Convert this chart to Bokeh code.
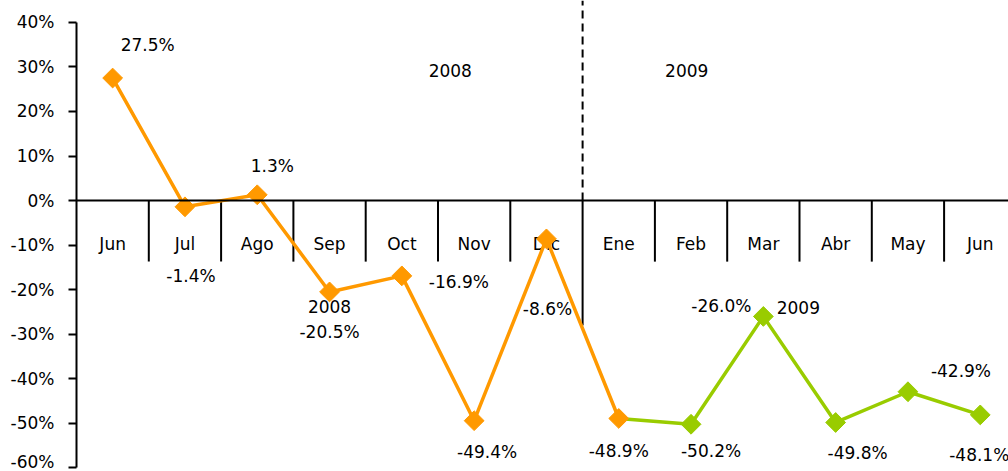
import math
from bokeh.plotting import figure
from bokeh.models import Range1d, FixedTicker, PrintfTickFormatter, Span, ColumnDataSource
from bokeh.core.properties import value
from bokeh.embed import file_html
from bokeh.resources import INLINE

# ---- data ----
months = ["Jun", "Jul", "Ago", "Sep", "Oct", "Nov", "Dic", "Ene", "Feb", "Mar", "Abr", "May", "Jun"]
values_2008 = [27.5, -1.4, 1.3, -20.5, -16.9, -49.4, -8.6, -48.9]          # Jun 2008 .. Ene 2009
values_2009 = [-48.9, -50.2, -26.0, -49.8, -42.9, -48.1]                   # Ene .. Jun 2009
y_ticks = [-60, -50, -40, -30, -20, -10, 0, 10, 20, 30, 40]
year_labels = ["2008", "2009"]

# ---- label placement (screen pixel offsets) ----
off_2008 = [(35, -33), (6, 69), (15, -29), (0, 40), (57, 6), (13, 31), (1, 70), (0, 33)]
off_2009 = [None, (20, 27), (-42, -10), (22, 31), (53, -21), (-1, 40)]

FONT = "DejaVu Sans"
ORANGE = "#FF9900"
GREEN = "#99CC00"

cat_w = 72.3
W, H, LEFT = 1008, 471, 76
p = figure(width=W, height=H, output_backend="svg", toolbar_location=None,
           x_range=Range1d(0, (W - LEFT) / cat_w), y_range=Range1d(-60.8, 44.9),
           x_axis_location=None, min_border_left=LEFT, min_border_right=0,
           min_border_top=0, min_border_bottom=0)
p.outline_line_color = None
p.grid.visible = False

ax = p.yaxis[0]
ax.ticker = FixedTicker(ticks=y_ticks)
ax.formatter = PrintfTickFormatter(format="%d%%")
ax.bounds = (min(y_ticks), max(y_ticks))
ax.axis_line_width = 2
ax.axis_line_color = "black"
ax.major_tick_line_width = 2
ax.major_tick_out = 8
ax.major_tick_in = 0
ax.minor_tick_out = 0
ax.minor_tick_in = 0
ax.major_label_standoff = 14
ax.major_label_text_font = FONT
ax.major_label_text_font_size = "17px"
ax.major_label_text_color = "black"

# zero line as category axis
p.add_layout(Span(location=0, dimension="width", line_color="black", line_width=2))

n = len(months)
bounds_x = list(range(1, n))
split = len(values_2008) - 1  # boundary between Dic and Ene
short = [b for b in bounds_x if b != split]
p.segment(x0=short, y0=[0] * len(short), x1=short, y1=[-13.7] * len(short),
          line_color="black", line_width=2)
p.segment(x0=[split], y0=[0], x1=[split], y1=[-28.0], line_color="black", line_width=2)
p.segment(x0=[split], y0=[0], x1=[split], y1=[44.9], line_color="black", line_width=2,
          line_dash="8 5")

# category labels
p.text(x=[i + 0.5 for i in range(n)], y=[0] * n, text=months, y_offset=43,
       text_font=value(FONT), text_font_size="17px", text_color="black",
       text_align="center", text_baseline="middle")

# year header labels
p.text(x=[5.17, 8.44], y=[29.2, 29.2], text=year_labels,
       text_font=value(FONT), text_font_size="17px", text_color="black",
       text_align="center", text_baseline="middle")

x08 = [i + 0.5 for i in range(len(values_2008))]
x09 = [i + 0.5 + split for i in range(len(values_2009))]

# 2009 series (drawn first)
p.line(x09, values_2009, line_color=GREEN, line_width=3.5)
p.scatter(x09[1:], values_2009[1:], marker="square", size=14, angle=math.pi / 4,
          fill_color=GREEN, line_color=GREEN)
# 2008 series
p.line(x08, values_2008, line_color=ORANGE, line_width=3.5)
p.scatter(x08, values_2008, marker="square", size=14, angle=math.pi / 4,
          fill_color=ORANGE, line_color=ORANGE)

# data labels
lx, ly, lt, lxo, lyo = [], [], [], [], []
for xv, yv, o in zip(x08, values_2008, off_2008):
    lx.append(xv); ly.append(yv); lt.append(f"{yv:.1f}%"); lxo.append(o[0]); lyo.append(o[1])
for xv, yv, o in zip(x09, values_2009, off_2009):
    if o is None:
        continue
    lx.append(xv); ly.append(yv); lt.append(f"{yv:.1f}%"); lxo.append(o[0]); lyo.append(o[1])
# series names attached to Sep (2008) and Mar (2009) points
lx += [x08[3], x09[2]]
ly += [values_2008[3], values_2009[2]]
lt += year_labels
lxo += [0, 35]
lyo += [15, -9]

src = ColumnDataSource(dict(x=lx, y=ly, t=lt, xo=lxo, yo=lyo))
p.text(x="x", y="y", text="t", x_offset="xo", y_offset="yo", source=src,
       text_font=value(FONT), text_font_size="17px", text_color="black",
       text_align="center", text_baseline="middle")

open("out.html", "w").write(file_html(p, INLINE))
